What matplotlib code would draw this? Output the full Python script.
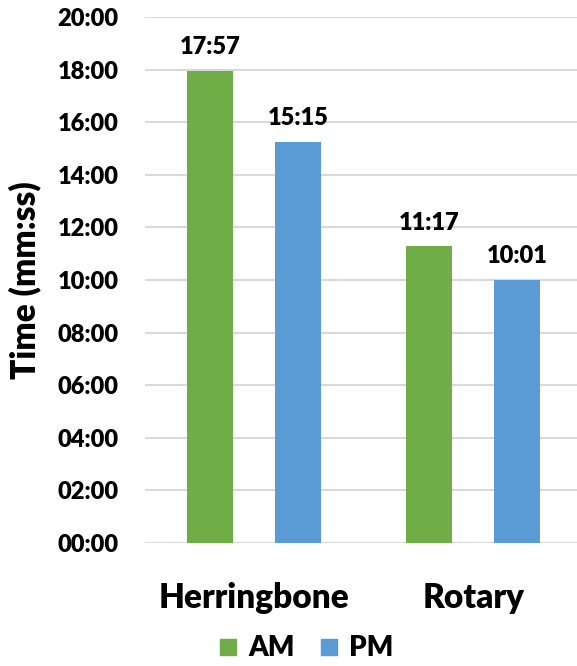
import matplotlib
matplotlib.use("Agg")
import matplotlib.pyplot as plt
from matplotlib.lines import Line2D
import numpy as np

plt.rcParams['font.family'] = ['Lato', 'DejaVu Sans']
plt.rcParams['font.weight'] = 'heavy'

categories = ['Herringbone', 'Rotary']
series = ['AM', 'PM']
am_times = ['17:57', '11:17']
pm_times = ['15:15', '10:01']
colors = ['#70AD47', '#5B9BD5']


def to_minutes(s):
    m, sec = s.split(':')
    return int(m) + int(sec) / 60.0


def fmt_mmss(v, pos=None):
    total = int(round(v * 60))
    return '%02d:%02d' % (total // 60, total % 60)


fig = plt.figure(figsize=(5.77, 6.66), dpi=100)
ax = fig.add_axes([0.2513, 0.1847, 0.7487, 0.7898])

x = np.arange(len(categories))
offset = 0.2
width = 0.21
for i, (name, vals) in enumerate(zip(series, [am_times, pm_times])):
    heights = [to_minutes(v) for v in vals]
    xs = x + (i * 2 - 1) * offset
    ax.bar(xs, heights, width, color=colors[i], zorder=3, label=name)
    for xi, h, lab in zip(xs, heights, vals):
        ax.annotate(lab, (xi, h), xytext=(0, 9), textcoords='offset points',
                    ha='center', va='bottom', fontsize=17, fontweight='heavy')

ax.set_xlim(-0.498, 1.474)
ax.set_ylim(0, 20)
ax.set_yticks(np.arange(0, 21, 2))
ax.yaxis.set_major_formatter(plt.FuncFormatter(fmt_mmss))
ax.grid(axis='y', color='#D9D9D9', linewidth=1.5, zorder=0)
ax.set_xticks(x)
ax.set_xticklabels(categories, fontsize=24, fontweight='heavy')
ax.tick_params(axis='x', length=0, pad=28)
ax.tick_params(axis='y', length=0, pad=19, labelsize=17)
for sp in ax.spines.values():
    sp.set_visible(False)
ax.axhline(0, color='#D9D9D9', linewidth=1.5, zorder=2)
ax.set_ylabel('Time (mm:ss)', fontsize=24, fontweight='heavy', labelpad=12)

handles = [Line2D([], [], marker='s', linestyle='', markersize=11,
                  color=c) for c in colors]
fig.legend(handles, series, loc='lower center', bbox_to_anchor=(0.53, -0.018),
           ncol=2, frameon=False, fontsize=20, handlelength=0.7,
           handletextpad=0.35, columnspacing=0.9, borderpad=0.1)

fig.savefig('out.png', dpi=100)
